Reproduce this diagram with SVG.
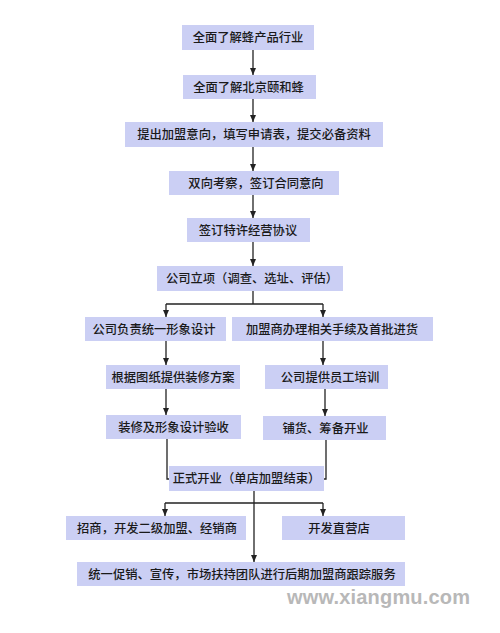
<svg xmlns="http://www.w3.org/2000/svg" width="500" height="633" viewBox="0 0 500 633">
<style>
.box{fill:#cbcff4;}
.t{font-family:"Noto Sans CJK SC","Liberation Sans",sans-serif;font-size:12.3px;font-weight:500;fill:#1a1a1a;text-anchor:middle;}
.c{stroke:#222;stroke-width:1.3;fill:none;}
.wm{font-family:"Liberation Sans","DejaVu Sans",sans-serif;font-weight:bold;font-size:20px;fill:#b8b8b8;}
</style>
<defs>
<marker id="ah" markerUnits="userSpaceOnUse" markerWidth="7" markerHeight="6" refX="7" refY="3" orient="auto">
<path d="M0,0 L7,3 L0,6 z" fill="#222"/>
</marker>
</defs>
<rect width="500" height="633" fill="#ffffff"/>
<g id="connectors">
<line class="c" x1="253" y1="50" x2="253" y2="75" marker-end="url(#ah)"/>
<line class="c" x1="253" y1="99" x2="253" y2="122" marker-end="url(#ah)"/>
<line class="c" x1="253" y1="147" x2="253" y2="171" marker-end="url(#ah)"/>
<line class="c" x1="253" y1="195" x2="253" y2="218" marker-end="url(#ah)"/>
<line class="c" x1="253" y1="242" x2="253" y2="266" marker-end="url(#ah)"/>
<line class="c" x1="253" y1="291" x2="253" y2="304"/>
<line class="c" x1="166" y1="304" x2="323" y2="304"/>
<line class="c" x1="166" y1="304" x2="166" y2="317" marker-end="url(#ah)"/>
<line class="c" x1="323" y1="304" x2="323" y2="317" marker-end="url(#ah)"/>
<line class="c" x1="166" y1="341" x2="166" y2="365" marker-end="url(#ah)"/>
<line class="c" x1="323" y1="341" x2="323" y2="365" marker-end="url(#ah)"/>
<line class="c" x1="166" y1="389" x2="166" y2="415" marker-end="url(#ah)"/>
<line class="c" x1="325" y1="389" x2="325" y2="416" marker-end="url(#ah)"/>
<path class="c" d="M167,439 V479 H170"/>
<path class="c" d="M326,440 V479 H323"/>
<line class="c" x1="254" y1="491" x2="254" y2="562" marker-end="url(#ah)"/>
<line class="c" x1="165" y1="503" x2="323" y2="503"/>
<line class="c" x1="165" y1="503" x2="165" y2="516" marker-end="url(#ah)"/>
<line class="c" x1="323" y1="503" x2="323" y2="516" marker-end="url(#ah)"/>
</g>
<g id="n1"><rect class="box" x="182" y="25" width="132" height="25"/><text class="t" x="248" y="42">全面了解蜂产品行业</text></g>
<g id="n2"><rect class="box" x="183" y="75" width="133" height="24"/><text class="t" x="248.5" y="91.5">全面了解北京颐和蜂</text></g>
<g id="n3"><rect class="box" x="125" y="122" width="258" height="25"/><text class="t" x="254" y="139">提出加盟意向，填写申请表，提交必备资料</text></g>
<g id="n4"><rect class="box" x="169" y="171" width="170" height="24"/><text class="t" x="256" y="187.5">双向考察，签订合同意向</text></g>
<g id="n5"><rect class="box" x="187" y="218" width="123" height="24"/><text class="t" x="248" y="234.5">签订特许经营协议</text></g>
<g id="n6"><rect class="box" x="157" y="266" width="186" height="25"/><text class="t" x="252" y="283">公司立项（调查、选址、评估）</text></g>
<g id="n7"><rect class="box" x="85" y="317" width="141" height="24"/><text class="t" x="154" y="333.5">公司负责统一形象设计</text></g>
<g id="n8"><rect class="box" x="232" y="317" width="201" height="24"/><text class="t" x="332" y="333.5">加盟商办理相关手续及首批进货</text></g>
<g id="n9"><rect class="box" x="106" y="365" width="134" height="24"/><text class="t" x="173" y="381.5">根据图纸提供装修方案</text></g>
<g id="n10"><rect class="box" x="265" y="365" width="123" height="24"/><text class="t" x="330" y="381.5">公司提供员工培训</text></g>
<g id="n11"><rect class="box" x="106" y="415" width="135" height="24"/><text class="t" x="173.5" y="431.5">装修及形象设计验收</text></g>
<g id="n12"><rect class="box" x="263" y="416" width="123" height="24"/><text class="t" x="325.5" y="432.5">铺货、筹备开业</text></g>
<g id="n13"><rect class="box" x="169" y="466" width="155" height="25"/><text class="t" x="246.5" y="483">正式开业（单店加盟结束）</text></g>
<g id="n14"><rect class="box" x="66" y="516" width="180" height="24"/><text class="t" x="157" y="532.5">招商，开发二级加盟、经销商</text></g>
<g id="n15"><rect class="box" x="282" y="516" width="123" height="24"/><text class="t" x="339" y="532.5">开发直营店</text></g>
<g id="n16"><rect class="box" x="77" y="562" width="328" height="24"/><text class="t" x="242" y="578.5">统一促销、宣传，市场扶持团队进行后期加盟商跟踪服务</text></g>
<text class="wm" x="287" y="603.5" textLength="183" lengthAdjust="spacing">www.xiangmu.com</text>
</svg>
